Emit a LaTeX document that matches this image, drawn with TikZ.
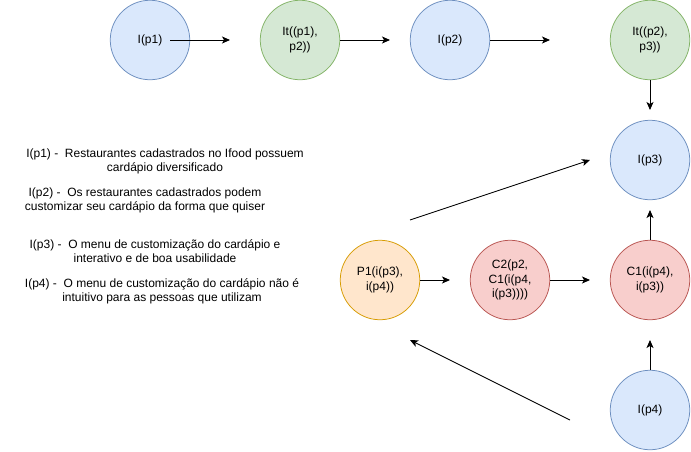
\documentclass[tikz,border=0pt]{standalone}
\usepackage{fontspec}
\setmainfont{Liberation Sans}
\usetikzlibrary{arrows.meta}
\definecolor{bfill}{HTML}{DAE8FC}\definecolor{bdraw}{HTML}{6C8EBF}
\definecolor{gfill}{HTML}{D5E8D4}\definecolor{gdraw}{HTML}{82B366}
\definecolor{ofill}{HTML}{FFE6CC}\definecolor{odraw}{HTML}{D79B00}
\definecolor{rfill}{HTML}{F8CECC}\definecolor{rdraw}{HTML}{B85450}
\begin{document}
\begin{tikzpicture}[x=1pt,y=-1pt,
  circ/.style={circle, minimum size=79.5pt, inner sep=0pt, line width=0.75pt, align=center, font=\fontsize{12}{14.5}\selectfont},
  blue/.style={circ, fill=bfill, draw=bdraw},
  green/.style={circ, fill=gfill, draw=gdraw},
  orange/.style={circ, fill=ofill, draw=odraw},
  red/.style={circ, fill=rfill, draw=rdraw},
  arr/.style={-{Stealth[length=8pt,width=7pt,inset=2pt]}, line width=0.9pt},
  note/.style={align=center, inner sep=0pt, font=\fontsize{12}{14}\selectfont}]
\useasboundingbox (0,0) rectangle (691,451);
\node[blue] (p1) at (150,40) {I(p1)};
\node[green] (it1) at (300,40) {It((p1),\\p2))};
\node[blue] (p2) at (450,40) {I(p2)};
\node[green] (it2) at (650,40) {It((p2),\\p3))};
\node[blue] (p3) at (650,160) {I(p3)};
\node[orange] (P1) at (380,280) {P1(i(p3),\\i(p4))};
\node[red] (C2) at (510,280) {C2(p2,\\C1(i(p4,\\i(p3))))};
\node[red] (C1) at (650,280) {C1(i(p4),\\i(p3))};
\node[blue] (p4) at (650,410) {I(p4)};

\coordinate (a1s) at (170,40); \coordinate (a1e) at (230,40);
\coordinate (a2e) at (390,40);
\coordinate (a3e) at (550,40);
\coordinate (a4e) at (650,110);
\coordinate (a5e) at (450,280);
\coordinate (a6e) at (590,280);
\coordinate (a7e) at (650,210);
\coordinate (a8e) at (650,340);
\coordinate (d1s) at (410,220); \coordinate (d1e) at (590,160);
\coordinate (d2s) at (570,420); \coordinate (d2e) at (410,340);

\draw[arr] (a1s) -- (a1e);
\draw[arr] (it1.east) -- (a2e);
\draw[arr] (p2.east) -- (a3e);
\draw[arr] (it2.south) -- (a4e);
\draw[arr] (P1.east) -- (a5e);
\draw[arr] (C2.east) -- (a6e);
\draw[arr] (C1.north) -- (a7e);
\draw[arr] (p4.north) -- (a8e);
\draw[arr] (d1s) -- (d1e);
\draw[arr] (d2s) -- (d2e);

\node[note] (n1) at (165,161.5) {I(p1) -~ Restaurantes cadastrados no Ifood possuem\\cardápio diversificado};
\node[note] (n2) at (145,200.5) {I(p2) -~ Os restaurantes cadastrados podem\\customizar seu cardápio da forma que quiser};
\node[note] (n3) at (155,251) {I(p3) -~ O menu de customização do cardápio e\\interativo e de boa usabilidade};
\node[note] (n4) at (162,291.5) {I(p4) -~ O menu de customização do cardápio não é\\intuitivo para as pessoas que utilizam};
\end{tikzpicture}
\end{document}
